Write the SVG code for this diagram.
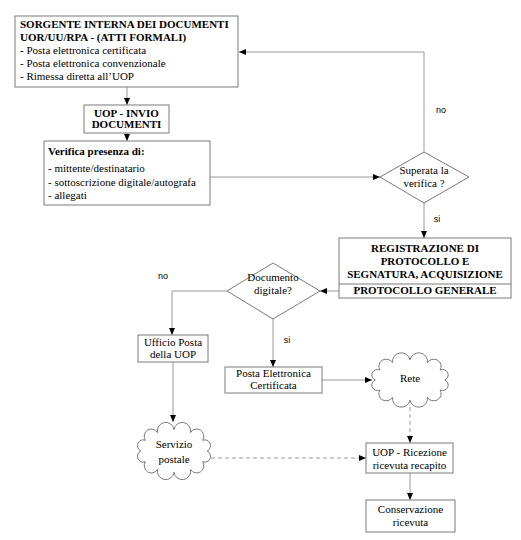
<svg xmlns="http://www.w3.org/2000/svg" xmlns:xlink="http://www.w3.org/1999/xlink" width="521" height="540" viewBox="0 0 521 540">
<style>
.box{fill:#fff;stroke:#7a7a7a;stroke-width:1}
.con{fill:none;stroke:#9a9a9a;stroke-width:1}
.dash{stroke-dasharray:4 3}
text{font-family:"Liberation Serif","Times New Roman",serif;font-size:11px;fill:#000}
.b{font-weight:bold}
.c{text-anchor:middle}
.lbl{font-family:"Liberation Sans",Arial,sans-serif;font-size:9px}
</style>
<defs>
<marker id="arr" markerUnits="userSpaceOnUse" markerWidth="8" markerHeight="8" viewBox="0 0 8 8" refX="7" refY="4" orient="auto">
<path d="M0,1 L7,4 L0,7 Z" fill="#000"/>
</marker>
<path id="cloud" class="box" vector-effect="non-scaling-stroke" d="M31,0 A5 5 0 0 1 26.85,9.5 A6.5 6.5 0 0 1 15.5,16.45 A7.8 7.8 0 0 1 0,19 A7.8 7.8 0 0 1 -15.5,16.45 A6.5 6.5 0 0 1 -26.85,9.5 A5 5 0 0 1 -31,0 A5 5 0 0 1 -26.85,-9.5 A6.5 6.5 0 0 1 -15.5,-16.45 A7.8 7.8 0 0 1 0,-19 A7.8 7.8 0 0 1 15.5,-16.45 A6.5 6.5 0 0 1 26.85,-9.5 A5 5 0 0 1 31,0 Z"/>
</defs>
<rect width="521" height="540" fill="#fff"/>

<g id="connectors">
<polyline class="con" points="424,152 424,52 239,52" marker-end="url(#arr)"/>
<line class="con" x1="127" y1="87" x2="127" y2="105" marker-end="url(#arr)"/>
<line class="con" x1="127" y1="133" x2="127" y2="141" marker-end="url(#arr)"/>
<line class="con" x1="210" y1="177" x2="380" y2="177" marker-end="url(#arr)"/>
<line class="con" x1="424" y1="203" x2="424" y2="238" marker-end="url(#arr)"/>
<line class="con" x1="339" y1="291" x2="320" y2="291" marker-end="url(#arr)"/>
<polyline class="con" points="227,291 172,291 172,335" marker-end="url(#arr)"/>
<line class="con" x1="273" y1="319" x2="273" y2="367" marker-end="url(#arr)"/>
<line class="con" x1="322" y1="380" x2="372" y2="380" marker-end="url(#arr)"/>
<line class="con dash" x1="410" y1="407" x2="410" y2="443" marker-end="url(#arr)"/>
<line class="con" x1="173" y1="362" x2="173" y2="422" marker-end="url(#arr)"/>
<line class="con dash" x1="211" y1="458" x2="366" y2="458" marker-end="url(#arr)"/>
<line class="con" x1="410" y1="473" x2="410" y2="500" marker-end="url(#arr)"/>
<text class="lbl" x="441" y="113" text-anchor="middle">no</text>
<text class="lbl" x="437" y="222" text-anchor="middle">si</text>
<text class="lbl" x="163" y="279" text-anchor="middle">no</text>
<text class="lbl" x="287" y="343" text-anchor="middle">si</text>
</g>

<g id="sorgente">
<rect class="box" x="15" y="16" width="223" height="71"/>
<text class="b" x="20" y="28">SORGENTE INTERNA DEI DOCUMENTI</text>
<text class="b" x="20" y="41">UOR/UU/RPA - (ATTI FORMALI)</text>
<text x="20" y="54"><tspan class="b">-</tspan> Posta elettronica certificata</text>
<text x="20" y="67">- Posta elettronica convenzionale</text>
<text x="20" y="80">- Rimessa diretta all’UOP</text>
</g>

<g id="invio">
<rect class="box" x="84" y="105" width="85" height="28"/>
<text class="b c" x="126.5" y="117">UOP - INVIO</text>
<text class="b c" x="126.5" y="128">DOCUMENTI</text>
</g>

<g id="verifica">
<rect class="box" x="44" y="141" width="166" height="64"/>
<text class="b" x="48" y="155">Verifica presenza di:</text>
<text x="48" y="172"> - mittente/destinatario</text>
<text x="48" y="186">- sottoscrizione digitale/autografa</text>
<text x="48" y="199">- allegati</text>
</g>

<g id="superata">
<polygon class="box" points="380,177 424,152 469,177 424,203"/>
<text class="c" x="424" y="174">Superata la</text>
<text class="c" x="424" y="187">verifica ?</text>
</g>

<g id="registrazione">
<rect class="box" x="339" y="238" width="172" height="60"/>
<line class="box" x1="339" y1="284" x2="511" y2="284"/>
<text class="b c" x="425" y="252">REGISTRAZIONE  DI</text>
<text class="b c" x="425" y="265">PROTOCOLLO E</text>
<text class="b c" x="425" y="278">SEGNATURA, ACQUISIZIONE</text>
<text class="b c" x="425" y="294">PROTOCOLLO GENERALE</text>
</g>

<g id="documento">
<polygon class="box" points="227,291 273,263 320,291 273,319"/>
<text class="c" x="273" y="281">Documento</text>
<text class="c" x="273" y="294">digitale?</text>
</g>

<g id="ufficio">
<rect class="box" x="138" y="335" width="70" height="27"/>
<text class="c" x="173" y="346">Ufficio Posta</text>
<text class="c" x="173" y="358">della UOP</text>
</g>

<g id="pec">
<rect class="box" x="225" y="367" width="97" height="26"/>
<text class="c" x="273.5" y="377">Posta Elettronica</text>
<text class="c" x="273.5" y="389">Certificata</text>
</g>

<g id="rete">
<use xlink:href="#cloud" href="#cloud" transform="translate(410,380) scale(1.12,1.06)"/>
<text class="c" x="410" y="382">Rete</text>
</g>

<g id="servizio">
<use xlink:href="#cloud" href="#cloud" transform="translate(174,451) scale(1.07,1.12)"/>
<text class="c" x="174" y="448">Servizio</text>
<text class="c" x="174" y="463">postale</text>
</g>

<g id="ricezione">
<rect class="box" x="366" y="443" width="87" height="30"/>
<text class="c" x="409.5" y="456">UOP - Ricezione</text>
<text class="c" x="409.5" y="469">ricevuta recapito</text>
</g>

<g id="conservazione">
<rect class="box" x="366" y="500" width="89" height="32"/>
<text class="c" x="410.5" y="513">Conservazione</text>
<text class="c" x="410.5" y="526">ricevuta</text>
</g>
</svg>
